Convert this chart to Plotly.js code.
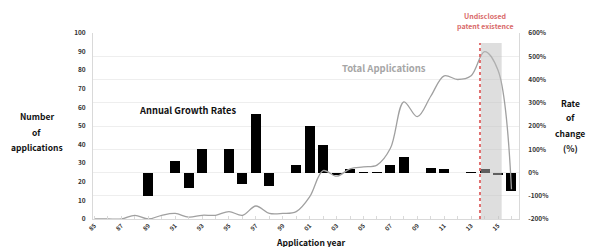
<!DOCTYPE html>
<html>
<head>
<meta charset="utf-8">
<script src="https://cdn.plot.ly/plotly-3.0.1.min.js"></script>
<style>html,body{margin:0;padding:0;background:#fff;}#chart{width:593px;height:247px;}</style>
</head>
<body>
<div id="chart"></div>
<script>
// Data
const years = [1985,1986,1987,1988,1989,1990,1991,1992,1993,1994,1995,1996,1997,1998,1999,2000,
               2001,2002,2003,2004,2005,2006,2007,2008,2009,2010,2011,2012,2013,2014,2015,2016];
const totalApplications = [0,0,0,2,0,2,3,1,2,2,4,2,7,3,3,4,
                           12,26,23,27,28,29,38,63,55,66,77,75,77,90,80,16];
const growthRates = [null,null,null,null,-100,null,50,-67,100,0,100,-50,250,-57,0,33,
                     200,117,-11.5,17,3.7,3.6,31,66,null,20,17,-2.6,2.7,17,-11,-80];
const tickYears = [1985,1987,1989,1991,1993,1995,1997,1999,2001,2003,2005,2007,2009,2011,2013,2015];
const tickLabels = ["85","87","89","91","93","95","97","99","01","03","05","07","09","11","13","15"];
const leftTicks = [0,10,20,30,40,50,60,70,80,90,100];
const rightTicks = [-200,-100,0,100,200,300,400,500,600];
const rightTickLabels = ["-200%","-100%","0%","100%","200%","300%","400%","500%","600%"];

const FONT = "'Noto Sans CJK KR', 'Noto Sans', sans-serif";

// all-year tick marks, labels only every 2 years
const allTickVals = years.slice();
const allTickText = years.map(y => {
  const i = tickYears.indexOf(y);
  return i >= 0 ? tickLabels[i] : "";
});

const traces = [
  {
    type: 'bar', x: years, y: growthRates, yaxis: 'y',
    marker: {color: '#000000', line: {width: 0}},
    width: 0.74, hoverinfo: 'skip'
  },
  {
    type: 'scatter', mode: 'lines', x: years, y: totalApplications, yaxis: 'y2',
    line: {color: '#a0a0a0', width: 1.3, shape: 'spline', smoothing: 1.0},
    hoverinfo: 'skip'
  }
];

function px2x(px) { return (px - 93) / 426; }
function px2y(py) { return (219 - py) / 186.3; }
function lab(text, px, py, size, color) {
  return {text: text, xref: 'paper', yref: 'paper', x: px2x(px), y: px2y(py), showarrow: false,
          xanchor: 'center', yanchor: 'middle',
          font: {size: size, family: FONT, color: color, weight: 'bold'}};
}

const layout = {
  width: 593, height: 247,
  margin: {l: 93, r: 74, t: 33, b: 28, pad: 0},
  paper_bgcolor: '#ffffff', plot_bgcolor: '#ffffff',
  showlegend: false,
  bargap: 0,
  font: {family: FONT, color: '#222'},
  xaxis: {
    range: [1984.89, 2016.56],
    tickvals: allTickVals, ticktext: allTickText,
    tickangle: -45,
    ticks: 'inside', ticklen: 3, tickcolor: '#d9d9d9',
    tickfont: {size: 6, family: FONT, weight: 'bold', color: '#333'},
    showgrid: false, zeroline: false,
    showline: true, linecolor: '#d9d9d9', linewidth: 1,
    fixedrange: true
  },
  yaxis: {
    side: 'right',
    range: [-200, 600],
    tickvals: rightTicks, ticktext: rightTickLabels,
    tickfont: {size: 6.5, family: FONT, weight: 'bold', color: '#333'},
    ticks: '', ticklabelstandoff: 7,
    showgrid: true, gridcolor: '#eeeeee', gridwidth: 1,
    zeroline: false,
    showline: true, linecolor: '#d9d9d9', linewidth: 1,
    fixedrange: true
  },
  yaxis2: {
    side: 'left', overlaying: 'y',
    range: [0, 100],
    tickvals: leftTicks,
    tickfont: {size: 6.5, family: FONT, weight: 'bold', color: '#333'},
    ticks: '', ticklabelstandoff: 5,
    showgrid: false, zeroline: false,
    showline: true, linecolor: '#d9d9d9', linewidth: 1,
    fixedrange: true
  },
  shapes: [
    {
      type: 'rect', xref: 'x', yref: 'y2',
      x0: 2013.72, x1: 2015.27, y0: 0, y1: 94.6,
      fillcolor: 'rgba(190,190,190,0.5)', line: {width: 0}, layer: 'above'
    },
    {
      type: 'line', xref: 'x', yref: 'y2',
      x0: 2013.66, x1: 2013.66, y0: 0, y1: 94.6,
      line: {color: '#e07070', width: 2, dash: '3px,3px'}, layer: 'above'
    }
  ],
  annotations: [
    lab('Undisclosed', 485, 16, 7, '#d96a6a'),
    lab('patent existence', 485, 25.5, 7, '#d96a6a'),
    lab('Total Applications', 384, 68, 9.5, '#a6a6a6'),
    lab('Annual Growth Rates', 187, 109.5, 9.3, '#111'),
    lab('Number', 37, 116, 8.5, '#111'),
    lab('of', 37, 132, 8.5, '#111'),
    lab('applications', 37, 147, 8.5, '#111'),
    lab('Rate', 570, 102.7, 8.5, '#111'),
    lab('of', 570, 117, 8.5, '#111'),
    lab('change', 570, 132.7, 8.5, '#111'),
    lab('(%)', 570, 148, 8.5, '#111'),
    lab('Application year', 310, 242.5, 8.5, '#111')
  ]
};

Plotly.newPlot('chart', traces, layout, {staticPlot: true, displayModeBar: false});
</script>
</body>
</html>
